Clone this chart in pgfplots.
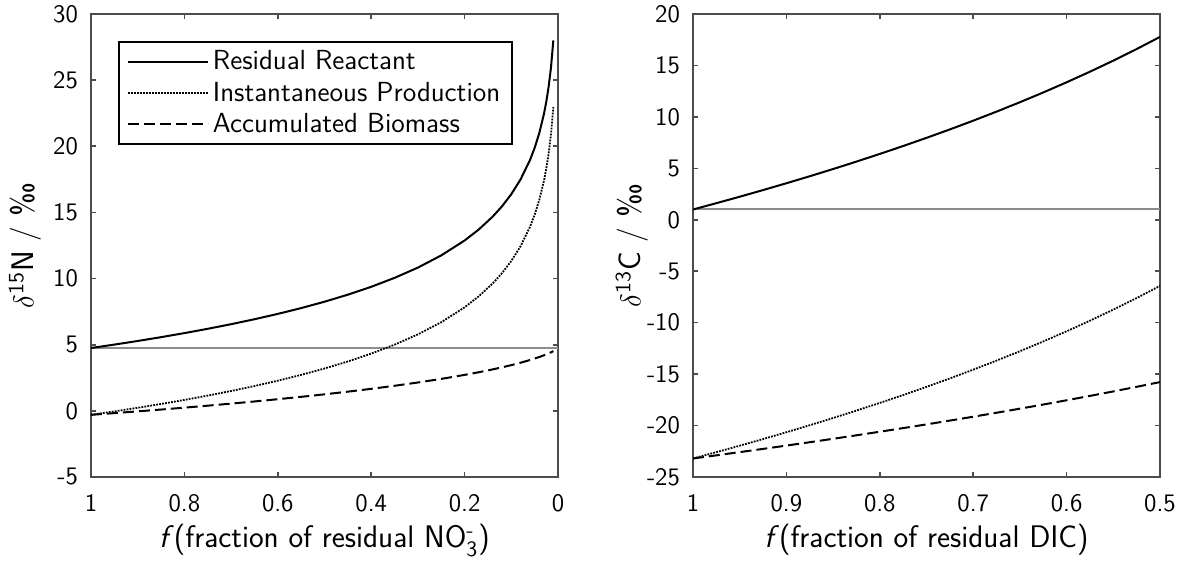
\documentclass[border=0pt]{standalone}
\usepackage{amsmath}
\usepackage{pgfplots}
\usepackage{pgfplotstable}
\pgfplotsset{compat=1.18}
\renewcommand{\familydefault}{\sfdefault}

\pgfplotstableread{
f      res     inst    acc
1      4.750   -0.300  -0.300
0.95   5.009   -0.041  -0.171
0.9    5.282    0.232  -0.038
0.85   5.571    0.521   0.099
0.8    5.877    0.827   0.242
0.75   6.203    1.153   0.392
0.7    6.551    1.501   0.547
0.65   6.925    1.875   0.710
0.6    7.330    2.280   0.881
0.55   7.769    2.719   1.060
0.5    8.250    3.200   1.250
0.45   8.782    3.732   1.451
0.4    9.377    4.327   1.665
0.35  10.052    5.002   1.895
0.3   10.830    5.780   2.144
0.25  11.751    6.701   2.416
0.2   12.878    7.828   2.718
0.17  13.698    8.648   2.917
0.14  14.679    9.629   3.133
0.12  15.457   10.407   3.290
0.1   16.378   11.328   3.458
0.08  17.505   12.455   3.641
0.06  18.958   13.908   3.843
0.05  19.878   14.828   3.954
0.04  21.005   15.955   4.073
0.03  22.458   17.408   4.202
0.025 23.379   18.329   4.272
0.02  24.506   19.456   4.347
0.015 25.959   20.909   4.427
0.01  28.006   22.956   4.515
}\nitrogen

\pgfplotstableread{
f      res     inst     acc
1      1.000  -23.200  -23.200
0.975  1.613  -22.587  -22.895
0.95   2.241  -21.959  -22.583
0.925  2.887  -21.313  -22.269
0.9    3.550  -20.650  -21.947
0.875  4.231  -19.969  -21.620
0.85   4.933  -19.267  -21.287
0.825  5.655  -18.545  -20.947
0.8    6.400  -17.800  -20.600
0.775  7.168  -17.032  -20.247
0.75   7.962  -16.238  -19.886
0.725  8.782  -15.418  -19.517
0.7    9.631  -14.569  -19.140
0.675 10.512  -13.688  -18.755
0.65  11.425  -12.775  -18.360
0.625 12.374  -11.826  -17.957
0.6   13.362  -10.838  -17.543
0.575 14.392   -9.808  -17.118
0.55  15.468   -8.732  -16.683
0.525 16.593   -7.607  -16.235
0.5   17.774   -6.426  -15.774
}\carbon

\pgfplotstableread{
f     base
1     4.75
0     4.75
}\nbase
\pgfplotstableread{
f     base
1     1.0
0.5   1.0
}\cbase

\begin{document}
\begin{tikzpicture}[x=1pt,y=1pt]
\pgfplotsset{
  myax/.style={
    scale only axis, width=233.5pt, height=231.5pt,
    anchor=south west,
    x dir=reverse,
    axis line style={black!70, line width=0.8pt},
    every tick/.style={black!70, line width=0.8pt},
    major tick length=2.5pt,
    tick label style={font=\fontsize{12.6}{14}\selectfont},
    xticklabel style={yshift=-5pt},
    yticklabel style={xshift=-3pt},
    label style={font=\fontsize{15.6}{18}\selectfont},
    xlabel style={at={(axis description cs:0.5,0)}, anchor=base, yshift=-35.5pt},
    /pgf/number format/assume math mode=true,
    res/.style={black, line width=1pt},
    inst/.style={black, line width=0.9pt, dash pattern=on 0.9pt off 0.6pt},
    acc/.style={black, line width=1pt, dash pattern=on 5.5pt off 2.5pt},
    base/.style={black!45, line width=1pt},
  }
}
\begin{axis}[myax, at={(45.5pt,42.5pt)},
  xmin=0, xmax=1, ymin=-5, ymax=30,
  xtick={0,0.2,0.4,0.6,0.8,1}, xticklabels={0,0.2,0.4,0.6,0.8,1},
  ytick={-5,0,5,10,15,20,25,30},
  xlabel={\textit{f}(fraction of residual NO$_{\text{3}}^{\text{-}}$)},
  ylabel={$\delta^{\text{15}}$N~/~\textperthousand},
  ylabel style={at={(axis description cs:0,0.5)}, anchor=center, yshift=33pt},
  legend style={at={(rel axis cs:0.058,0.942)}, anchor=north west,
    draw=black, line width=0.9pt, font=\fontsize{13.8}{16}\selectfont,
    inner xsep=4pt, inner ysep=2.5pt, row sep=0.5pt},
  legend cell align=left,
  legend image code/.code={\draw[#1] (0pt,0pt) -- (40pt,0pt);},
]
\addplot[base, forget plot] table[x=f, y=base] {\nbase};
\addplot[res] table[x=f, y=res] {\nitrogen};
\addplot[inst] table[x=f, y=inst] {\nitrogen};
\addplot[acc] table[x=f, y=acc] {\nitrogen};
\legend{Residual Reactant, Instantaneous Production, Accumulated Biomass}
\end{axis}

\begin{axis}[myax, at={(346.5pt,42.5pt)},
  xmin=0.5, xmax=1, ymin=-25, ymax=20,
  xtick={0.5,0.6,0.7,0.8,0.9,1}, xticklabels={0.5,0.6,0.7,0.8,0.9,1},
  ytick={-25,-20,-15,-10,-5,0,5,10,15,20},
  xlabel={\textit{f}(fraction of residual DIC)},
  ylabel={$\delta^{\text{13}}$C~/~\textperthousand},
  ylabel style={at={(axis description cs:0,0.5)}, anchor=center, yshift=30.5pt},
]
\addplot[base] table[x=f, y=base] {\cbase};
\addplot[res] table[x=f, y=res] {\carbon};
\addplot[inst] table[x=f, y=inst] {\carbon};
\addplot[acc] table[x=f, y=acc] {\carbon};
\end{axis}
\pgfresetboundingbox
\path (0,0) rectangle (592pt,281pt);
\end{tikzpicture}
\end{document}
